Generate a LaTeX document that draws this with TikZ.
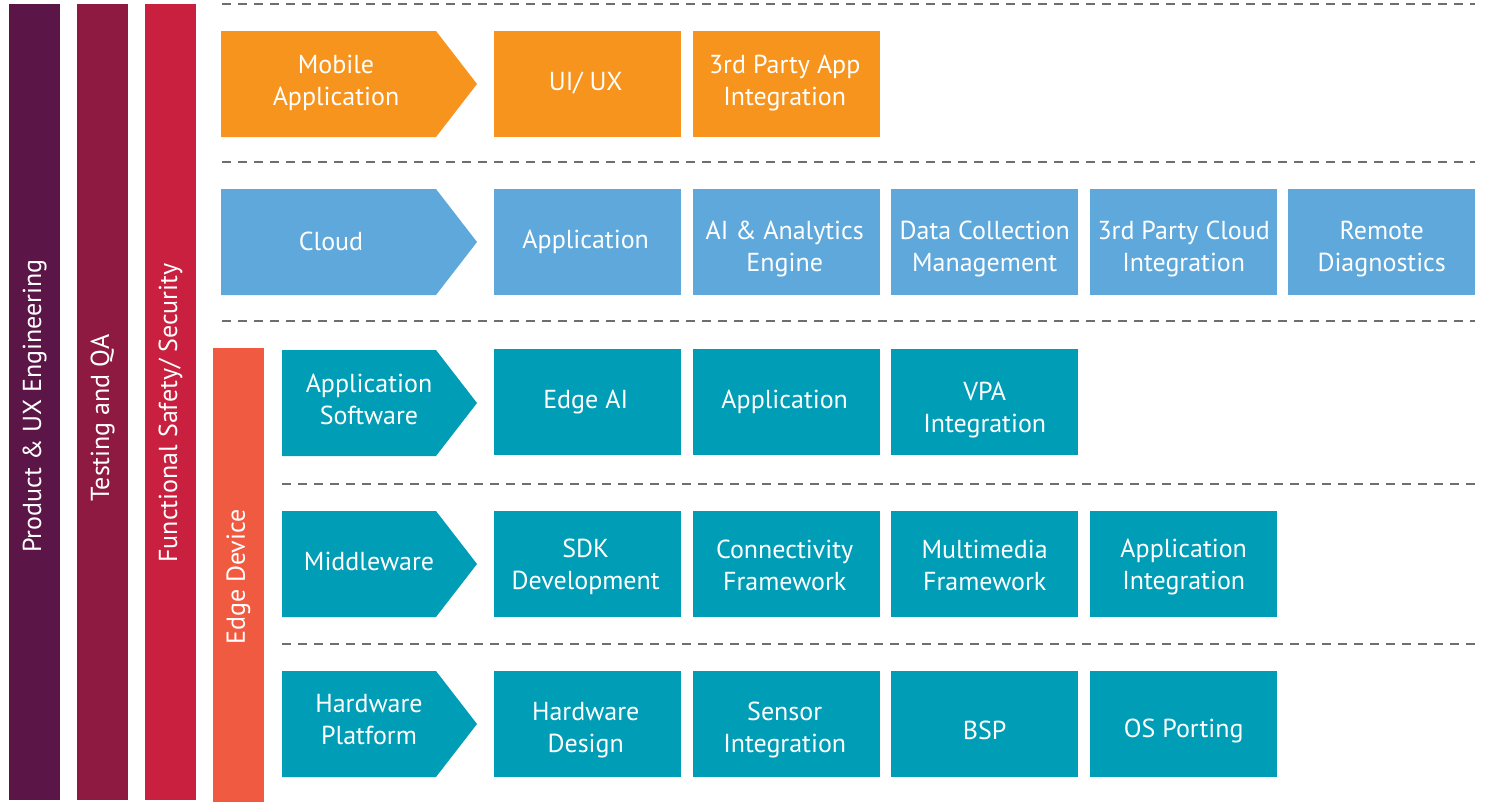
\documentclass[tikz,border=0pt]{standalone}
\usepackage{fontspec}
\setmainfont{PT Sans}
\definecolor{cPurple}{HTML}{5B1647}
\definecolor{cMaroon}{HTML}{8E1941}
\definecolor{cRed}{HTML}{C8203E}
\definecolor{cOrange}{HTML}{F7941D}
\definecolor{cBlue}{HTML}{5EA8DB}
\definecolor{cTeal}{HTML}{009DB6}
\definecolor{cEdge}{HTML}{F05A40}
\definecolor{cDash}{HTML}{6D6E71}
\begin{document}
\begin{tikzpicture}[x=1pt,y=-1pt,
  lbl/.style={text=white,align=center,font=\fontsize{26}{32}\selectfont,inner sep=0},
  box/.style={anchor=north west,minimum width=187,minimum height=106,inner sep=0},
  bar/.style={anchor=north west,minimum width=51,minimum height=796,inner sep=0},
  sidetxt/.style={lbl,rotate=90},
  sep/.style={cDash,line width=1.5,dash pattern=on 9 off 7}]
\useasboundingbox (0,0) rectangle (1485,803);
\node[bar,fill=cPurple] (pux) at (9,4) {};
\node[bar,fill=cMaroon] (tqa) at (77,4) {};
\node[bar,fill=cRed] (fss) at (145,4) {};
\node[anchor=north west,minimum width=51,minimum height=454,inner sep=0,fill=cEdge] (edge) at (213,348) {};
\node[sidetxt] (puxtxt) at (34.5,406) {Product \& UX Engineering};
\node[sidetxt] (tqatxt) at (102.5,418) {Testing and QA};
\node[sidetxt] (fsstxt) at (170.5,413) {Functional Safety/ Security};
\node[sidetxt] (edgetxt) at (238.5,577) {Edge Device};
\foreach \y in {4,162,321} \draw[sep] (222,\y) -- (1475,\y);
\foreach \y in {484,644} \draw[sep] (282,\y) -- (1475,\y);
% mobile
\fill[cOrange] (221,31) -- (436,31) -- (477,84) -- (436,137) -- (221,137) -- cycle;
\node[lbl] (mobile) at (336,83) {Mobile\\Application};
\node[box,fill=cOrange] (uiux) at (494,31) {};
\node[lbl] (uiuxt) at ([xshift=-2pt,yshift=1pt]uiux.center) {UI/ UX};
\node[box,fill=cOrange] (mobint) at (693,31) {};
\node[lbl] (mobintt) at ([xshift=-2pt,yshift=1pt]mobint.center) {3rd Party App\\Integration};
% cloud
\fill[cBlue] (221,189) -- (436,189) -- (477,242) -- (436,295) -- (221,295) -- cycle;
\node[lbl] (cloud) at (331,241) {Cloud};
\node[box,fill=cBlue] (cldapp) at (494,189) {};
\node[lbl] (cldappt) at ([xshift=-2pt]cldapp.center) {Application};
\node[box,fill=cBlue] (cldai) at (693,189) {};
\node[lbl] (cldait) at ([xshift=-2pt,yshift=-7pt]cldai.center) {AI \& Analytics\\Engine};
\node[box,fill=cBlue] (cldcoll) at (891,189) {};
\node[lbl] (cldcollt) at ([yshift=-7pt]cldcoll.center) {Data Collection\\Management};
\node[box,fill=cBlue] (cldint) at (1090,189) {};
\node[lbl] (cldintt) at ([yshift=-7pt]cldint.center) {3rd Party Cloud\\Integration};
\node[box,fill=cBlue] (clddiag) at (1288,189) {};
\node[lbl] (clddiagt) at ([yshift=-7pt]clddiag.center) {Remote\\Diagnostics};
% edge device
\fill[cTeal] (282,350) -- (436,350) -- (477,403) -- (436,456) -- (282,456) -- cycle;
\node[lbl] (appsw) at (369,399) {Application\\Software};
\node[box,fill=cTeal] (edgeai) at (494,349) {};
\node[lbl] (edgeait) at ([xshift=-2pt]edgeai.center) {Edge AI};
\node[box,fill=cTeal] (edgeapp) at (693,349) {};
\node[lbl] (edgeappt) at ([xshift=-2pt]edgeapp.center) {Application};
\node[box,fill=cTeal] (vpa) at (891,349) {};
\node[lbl] (vpat) at ([yshift=-8pt]vpa.center) {VPA\\Integration};
\fill[cTeal] (282,511) -- (436,511) -- (477,564) -- (436,617) -- (282,617) -- cycle;
\node[lbl] (mw) at (369,561) {Middleware};
\node[box,fill=cTeal] (sdk) at (494,511) {};
\node[lbl] (sdkt) at ([xshift=-2pt,yshift=-3pt]sdk.center) {SDK\\Development};
\node[box,fill=cTeal] (conn) at (693,511) {};
\node[lbl] (connt) at ([xshift=-2pt,yshift=-1pt]conn.center) {Connectivity\\Framework};
\node[box,fill=cTeal] (mmf) at (891,511) {};
\node[lbl] (mmft) at ([yshift=-1pt]mmf.center) {Multimedia\\Framework};
\node[box,fill=cTeal] (appint) at (1090,511) {};
\node[lbl] (appintt) at ([yshift=-3pt]appint.center) {Application\\Integration};
\fill[cTeal] (282,671) -- (436,671) -- (477,724) -- (436,777) -- (282,777) -- cycle;
\node[lbl] (hwp) at (369,720) {Hardware\\Platform};
\node[box,fill=cTeal] (hwd) at (494,671) {};
\node[lbl] (hwdt) at ([xshift=-2pt,yshift=-6pt]hwd.center) {Hardware\\Design};
\node[box,fill=cTeal] (sens) at (693,671) {};
\node[lbl] (senst) at ([xshift=-2pt,yshift=-6pt]sens.center) {Sensor\\Integration};
\node[box,fill=cTeal] (bsp) at (891,671) {};
\node[lbl] (bspt) at ([yshift=-6pt]bsp.center) {BSP};
\node[box,fill=cTeal] (osp) at (1090,671) {};
\node[lbl] (ospt) at ([yshift=-7pt]osp.center) {OS Porting};
\end{tikzpicture}
\end{document}
